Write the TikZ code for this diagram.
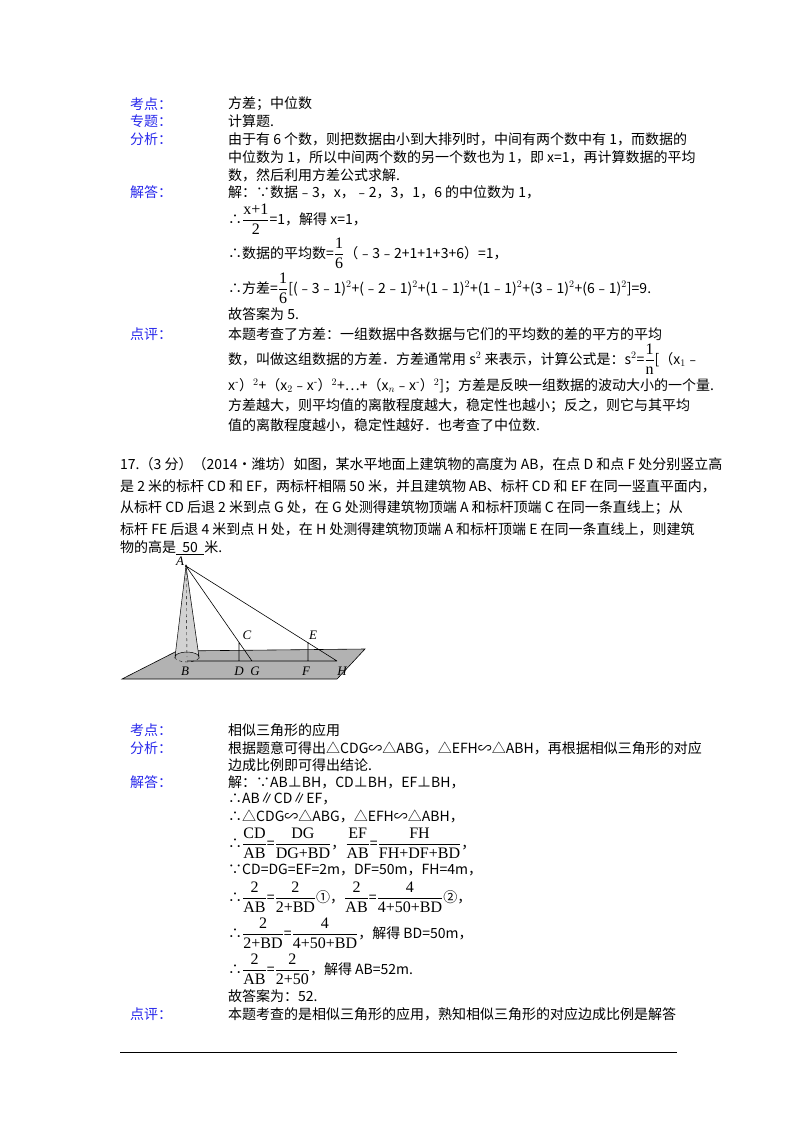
\documentclass[tikz,border=0pt]{standalone}
\usepackage{fontspec}
\setmainfont{Noto Sans CJK SC}
\newfontfamily\lab{Liberation Serif}
\usepackage{amsmath}
\begin{document}
\begin{tikzpicture}[x=1pt,y=-1pt,
  t/.style={anchor=west,inner sep=0pt,font=\fontsize{14}{15}\selectfont},
  k/.style={t,text={rgb,255:red,40;green,40;blue,235}},
  pl/.style={font=\lab\itshape\fontsize{13}{15}\selectfont,inner sep=0pt}]
\useasboundingbox (0,0) rectangle (800,1132);
\newcommand\fr[2]{\ensuremath{\genfrac{}{}{0.5pt}{0}{\text{\lab\fontsize{16}{16}\selectfont #1}}{\text{\lab\fontsize{16}{16}\selectfont #2}}}}
% first block
\node[k] (k1) at (130,104) {考点：};
\node[t] (c1) at (228,104) {方差；中位数};
\node[k] (k2) at (130,121) {专题：};
\node[t] (c2) at (228,121) {计算题.};
\node[k] (k3) at (130,139) {分析：};
\node[t] (c3) at (228,139) {由于有 6 个数，则把数据由小到大排列时，中间有两个数中有 1，而数据的};
\node[t] (c4) at (228,157) {中位数为 1，所以中间两个数的另一个数也为 1，即 x=1，再计算数据的平均};
\node[t] (c5) at (228,175) {数，然后利用方差公式求解.};
\node[k] (k4) at (130,192) {解答：};
\node[t] (c6) at (228,192) {解：∵数据﹣3，x，﹣2，3，1，6 的中位数为 1，};
\node[t] (c7) at (228,219) {∴\fr{x+1}{2}=1，解得 x=1，};
\node[t] (c8) at (228,253) {∴数据的平均数=\fr{1}{6}（﹣3﹣2+1+1+3+6）=1，};
\node[t] (c9) at (228,288) {∴方差=\fr{1}{6}[(﹣3﹣1)$^2$+(﹣2﹣1)$^2$+(1﹣1)$^2$+(1﹣1)$^2$+(3﹣1)$^2$+(6﹣1)$^2$]=9.};
\node[t] (c10) at (228,314) {故答案为 5.};
\node[k] (k5) at (130,334) {点评：};
\node[t] (c11) at (228,334) {本题考查了方差：一组数据中各数据与它们的平均数的差的平方的平均};
\node[t] (c12) at (228,359) {数，叫做这组数据的方差．方差通常用 s$^2$ 来表示，计算公式是：s$^2$=\fr{1}{n}[（x$_1$﹣};
\node[t] (c13) at (228,386) {x\textsuperscript{-}）$^2$+（x$_2$﹣x\textsuperscript{-}）$^2$+…+（x$_n$﹣x\textsuperscript{-}）$^2$]；方差是反映一组数据的波动大小的一个量.};
\node[t] (c14) at (228,406) {方差越大，则平均值的离散程度越大，稳定性也越小；反之，则它与其平均};
\node[t] (c15) at (228,425) {值的离散程度越小，稳定性越好．也考查了中位数.};
% problem 17
\node[t] (p1) at (120,464) {17.（3 分）（2014•潍坊）如图，某水平地面上建筑物的高度为 AB，在点 D 和点 F 处分别竖立高};
\node[t] (p2) at (120,486) {是 2 米的标杆 CD 和 EF，两标杆相隔 50 米，并且建筑物 AB、标杆 CD 和 EF 在同一竖直平面内，};
\node[t] (p3) at (120,508) {从标杆 CD 后退 2 米到点 G 处，在 G 处测得建筑物顶端 A 和标杆顶端 C 在同一条直线上；从};
\node[t] (p4) at (120,529) {标杆 FE 后退 4 米到点 H 处，在 H 处测得建筑物顶端 A 和标杆顶端 E 在同一条直线上，则建筑};
\node[t] (p5) at (120,548) {物的高是\underline{\ \ 50\ \ }米.};
% figure
\coordinate (A) at (186,566);
\coordinate (B) at (187,661);
\coordinate (D) at (239,661);
\coordinate (C) at (239,642);
\coordinate (G) at (252,661);
\coordinate (F) at (308,661);
\coordinate (E) at (308,642);
\coordinate (H) at (337,661);
\fill[gray!60,draw=black,line width=0.6pt] (122,679) -- (177,651) -- (365,649) -- (337,679) -- cycle;
\fill[gray!35,draw=black,line width=0.5pt] (A) -- (175,657) arc[start angle=180,end angle=360,x radius=12,y radius=5] -- cycle;
\draw[dashed,line width=0.4pt] (175,657) arc[start angle=180,end angle=0,x radius=12,y radius=5];
\draw[dashed,line width=0.4pt] (A) -- (187,657);
\draw[line width=0.6pt] (B) -- (H) (A) -- (G) (A) -- (H) (C) -- (D) (E) -- (F);
\fill (A) circle (1.2);
\node[pl] (lA) at (180,561) {A};
\node[pl] (lB) at (185,671) {B};
\node[pl] (lC) at (247,635) {C};
\node[pl] (lD) at (239,671) {D};
\node[pl] (lG) at (255,671) {G};
\node[pl] (lE) at (313,635) {E};
\node[pl] (lF) at (306,671) {F};
\node[pl] (lH) at (342,671) {H};
% answer block
\node[k] (q1) at (130,730) {考点：};
\node[t] (d1) at (228,730) {相似三角形的应用};
\node[k] (q2) at (130,748) {分析：};
\node[t] (d2) at (228,748) {根据题意可得出△CDG∽△ABG，△EFH∽△ABH，再根据相似三角形的对应};
\node[t] (d3) at (228,765) {边成比例即可得出结论.};
\node[k] (q3) at (130,782) {解答：};
\node[t] (d4) at (228,782) {解：∵AB⊥BH，CD⊥BH，EF⊥BH，};
\node[t] (d5) at (228,799) {∴AB∥CD∥EF，};
\node[t] (d6) at (228,816) {∴△CDG∽△ABG，△EFH∽△ABH，};
\node[t] (d7) at (228,843) {∴\fr{CD}{AB}=\fr{DG}{DG+BD}，\fr{EF}{AB}=\fr{FH}{FH+DF+BD}，};
\node[t] (d8) at (228,870) {∵CD=DG=EF=2m，DF=50m，FH=4m，};
\node[t] (d9) at (228,897) {∴\fr{2}{AB}=\fr{2}{2+BD}①，\fr{2}{AB}=\fr{4}{4+50+BD}②，};
\node[t] (d10) at (228,933) {∴\fr{2}{2+BD}=\fr{4}{4+50+BD}，解得 BD=50m，};
\node[t] (d11) at (228,969) {∴\fr{2}{AB}=\fr{2}{2+50}，解得 AB=52m.};
\node[t] (d12) at (228,996) {故答案为：52.};
\node[k] (q4) at (130,1014) {点评：};
\node[t] (d13) at (228,1014) {本题考查的是相似三角形的应用，熟知相似三角形的对应边成比例是解答};
\draw[line width=0.8pt] (120,1052) -- (677,1052);
\end{tikzpicture}
\end{document}
